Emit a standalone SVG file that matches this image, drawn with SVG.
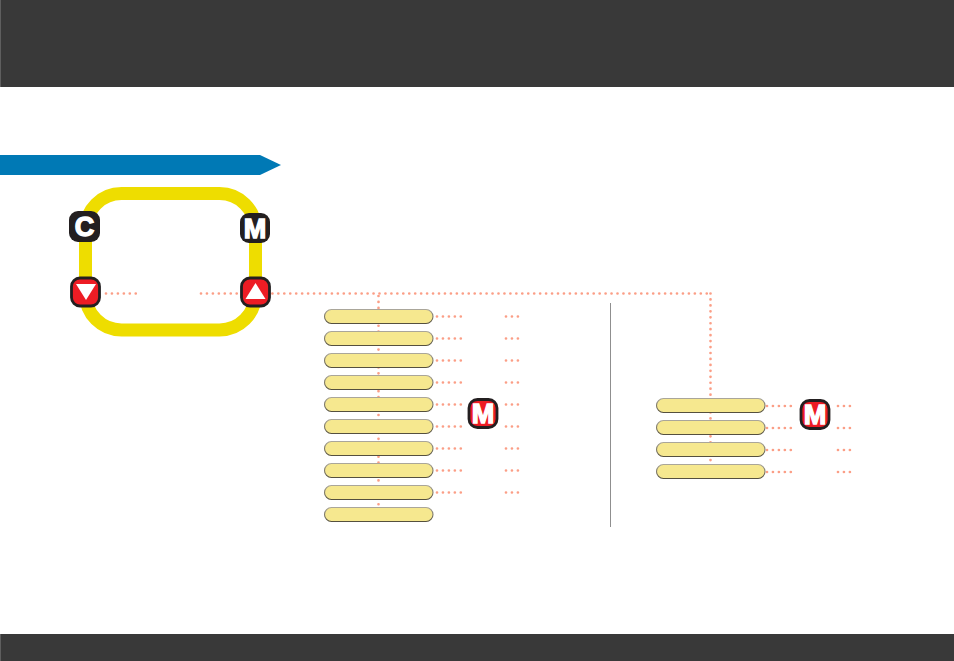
<svg xmlns="http://www.w3.org/2000/svg" width="954" height="661" viewBox="0 0 954 661">
<style>
.band{fill:#393939}
.edge{fill:#5f5f5f}
.pill{fill:#f6e88f;stroke:url(#ps);stroke-width:1.1}
.dot{fill:none;stroke:#fb9e86;stroke-width:2.7;stroke-linecap:round;stroke-dasharray:0 5.95}
.bk{fill:#231f20}
.rd{fill:#ed1c24;stroke:#231f20;stroke-width:2.8}
.tx{font-family:"Liberation Sans",Arial,sans-serif;font-weight:700;font-size:27px;fill:#fff;stroke:#fff;stroke-width:1.4;text-anchor:middle;opacity:.999}
</style>
<defs>
<linearGradient id="ps" x1="0" y1="0" x2="0" y2="1"><stop offset="0" stop-color="#aaa69a"/><stop offset="1" stop-color="#55503f"/></linearGradient>
<rect id="p" x="0" y="0" width="108.5" height="14" rx="7" ry="7" class="pill"/>
</defs>
<g id="header"><rect class="band" x="0" y="0" width="954" height="87"/><rect class="edge" x="0" y="0" width="1" height="87"/></g>
<g id="footer"><rect class="band" x="0" y="634" width="954" height="27"/><rect class="edge" x="0" y="634" width="1" height="27"/></g>
<g id="section-arrow"><polygon points="0,155 260,155 281,165 260,175 0,175" fill="#0079b5"/></g>
<g id="loop"><rect x="85.5" y="193.5" width="170" height="136.5" rx="36" ry="36" fill="none" stroke="#eedd00" stroke-width="13"/></g>
<line x1="610.5" y1="303" x2="610.5" y2="527" stroke="#8f8f8f" stroke-width="1"/>
<g id="connectors">
<path class="dot" d="M106 293.5H137"/>
<path class="dot" d="M201 293.5H711"/>
<path class="dot" d="M378.5 296V505"/>
<path class="dot" d="M710.5 293.5V466"/>
<path class="dot" d="M437 316.5H461M506 316.5H520M437 338.5H461M506 338.5H520M437 360.5H461M506 360.5H520M437 382.5H461M506 382.5H520M437 404.5H461M506 404.5H520M437 426.5H461M506 426.5H520M437 448.5H461M506 448.5H520M437 470.5H461M506 470.5H520M437 492.5H461M506 492.5H520"/>
<path class="dot" d="M767 406H793M838 406H852M767 428H793M838 428H852M767 450H793M838 450H852M767 472H793M838 472H852"/>
</g>
<g id="node-c"><rect class="bk" x="69" y="211" width="31" height="31" rx="9"/><text class="tx" x="84.5" y="236">C</text></g>
<g id="node-m"><rect class="bk" x="240" y="213" width="30" height="30" rx="9"/><text class="tx" x="255" y="237.5">M</text></g>
<g id="node-down"><rect class="rd" x="71.5" y="278" width="28" height="28" rx="8.5"/><polygon points="76,284 96,284 86,300" fill="#fff"/></g>
<g id="node-up"><rect class="rd" x="241.5" y="278" width="28" height="28" rx="8.5"/><polygon points="245.5,299 265.5,299 255.5,283" fill="#fff"/></g>
<g id="pills-left">
<use href="#p" x="324.5" y="309.5"/><use href="#p" x="324.5" y="331.5"/><use href="#p" x="324.5" y="353.5"/><use href="#p" x="324.5" y="375.5"/><use href="#p" x="324.5" y="397.5"/><use href="#p" x="324.5" y="419.5"/><use href="#p" x="324.5" y="441.5"/><use href="#p" x="324.5" y="463.5"/><use href="#p" x="324.5" y="485.5"/><use href="#p" x="324.5" y="507.5"/>
</g>
<g id="pills-right">
<use href="#p" x="656.5" y="398.5"/><use href="#p" x="656.5" y="420.5"/><use href="#p" x="656.5" y="442.5"/><use href="#p" x="656.5" y="464.5"/>
</g>
<g id="m-left"><rect class="rd" x="469" y="399.5" width="28" height="28" rx="8.5"/><text class="tx" x="483" y="423">M</text></g>
<g id="m-right"><rect class="rd" x="801" y="400.5" width="28" height="28" rx="8.5"/><text class="tx" x="815" y="424">M</text></g>
</svg>
